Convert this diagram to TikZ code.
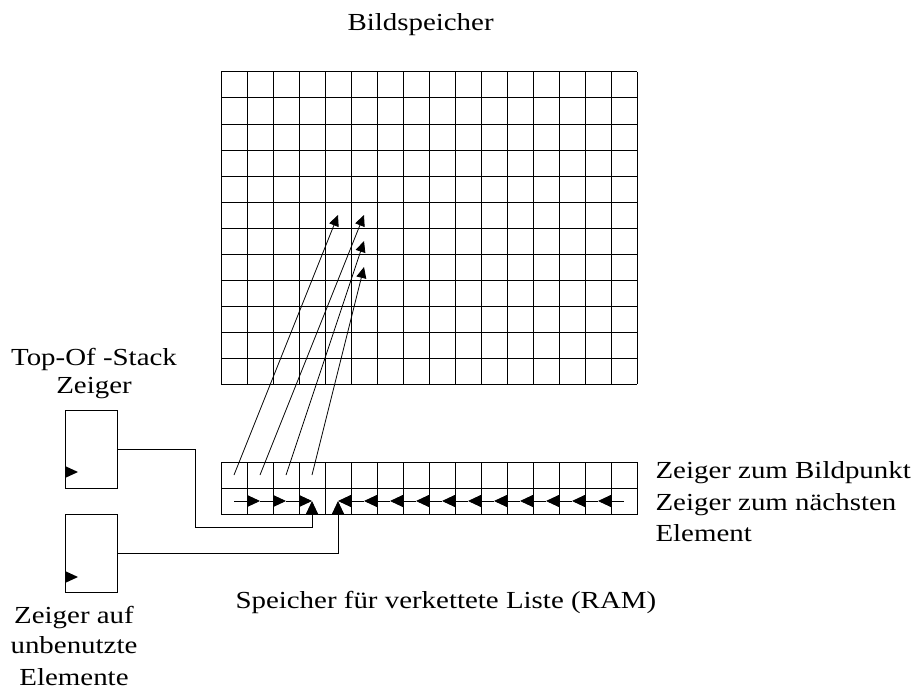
\documentclass[tikz,border=0pt]{standalone}
\usepackage{fontspec}
\setmainfont[FakeStretch=1.18]{Liberation Serif}
\usetikzlibrary{arrows.meta}
\begin{document}
\begin{tikzpicture}[x=1pt,y=-1pt,line width=1pt,
  lbl/.style={font=\fontsize{24.5}{29}\selectfont,inner sep=0pt,anchor=base},
  lblw/.style={lbl,anchor=base west},
  cell/.style={draw,minimum size=26pt,inner sep=0pt},
  ptr/.style={-{Triangle[length=11pt,width=10pt]},line width=0.8pt},
  link/.style={-{Triangle[length=13pt,width=12pt]},line width=0.9pt},
  reg/.style={draw,minimum width=52pt,minimum height=78pt,inner sep=0pt}]
\useasboundingbox (0,0) rectangle (917,690);
% Bildspeicher grid
\foreach \i in {0,...,16} \draw (221+26*\i,72) -- (221+26*\i,384);
\foreach \j in {0,...,12} \draw (221,72+26*\j) -- (637,72+26*\j);
\coordinate (g-4-5) at (338,215);
\coordinate (g-5-5) at (364,215);
\coordinate (g-5-6) at (364,241);
\coordinate (g-5-7) at (364,267);
% list memory
\foreach \i in {0,...,15} {
  \node[cell] (p\i) at (234+26*\i,475) {};
  \node[cell] (n\i) at (234+26*\i,501) {};
}
% pixel pointers
\draw[ptr] (p0.center) -- (g-4-5);
\draw[ptr] (p1.center) -- (g-5-5);
\draw[ptr] (p2.center) -- (g-5-6);
\draw[ptr] (p3.center) -- (g-5-7);
% next pointers
\foreach \i/\j in {0/1,1/2,2/3} \draw[link] (n\i.center) -- (n\j.center);
\foreach \i [evaluate=\i as \j using int(\i-1)] in {5,...,15} \draw[link] (n\i.center) -- (n\j.center);
% registers
\node[reg] (tos) at (91,449) {};
\node[reg] (free) at (91,553) {};
\fill (65,466) -- (78,472) -- (65,478) -- cycle;
\fill (65,571) -- (78,577) -- (65,583) -- cycle;
\coordinate (bend) at (195,527);
\draw[link] (tos.east) -| (bend) -| (n3.center);
\draw[link] (free.east) -| (n4.center);
% labels
\node[lblw] (title) at (347,31) {Bildspeicher};
\node[lbl] (tos1) at (94,365) {Top-Of -Stack};
\node[lbl] (tos2) at (94,393) {Zeiger};
\node[lblw] (r1) at (655,478) {Zeiger zum Bildpunkt};
\node[lblw] (r2) at (655,510) {Zeiger zum nächsten};
\node[lblw] (r3) at (655,541) {Element};
\node[lblw] (ram) at (235,608) {Speicher für verkettete Liste (RAM)};
\node[lbl] (f1) at (74,623) {Zeiger auf};
\node[lbl] (f2) at (74,653) {unbenutzte};
\node[lbl] (f3) at (74,685) {Elemente};
\end{tikzpicture}
\end{document}
